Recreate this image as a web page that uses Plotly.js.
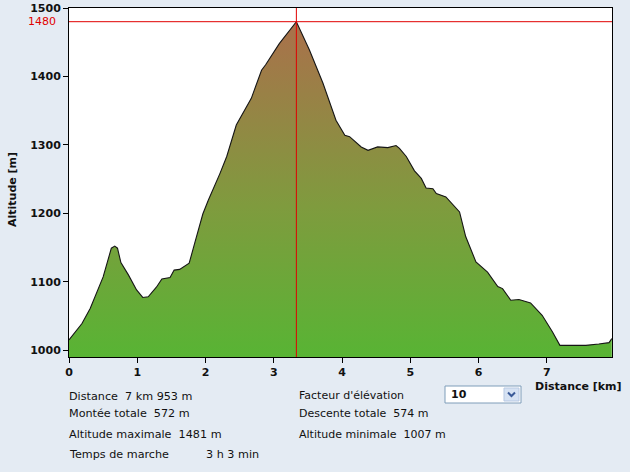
<!DOCTYPE html>
<html>
<head>
<meta charset="utf-8">
<script src="https://cdn.plot.ly/plotly-3.0.1.min.js"></script>
<style>
html,body{margin:0;padding:0;background:#e4ebf3;}
#chart{width:630px;height:472px;}
</style>
</head>
<body>
<div id="chart"></div>
<script>
// Distance along the route (km) and altitude (m)
const distKm = [0, 0.19, 0.31, 0.50, 0.62, 0.67, 0.71, 0.76, 0.87, 0.99, 1.08, 1.16, 1.28, 1.36, 1.48, 1.54, 1.62, 1.76, 1.84, 1.96, 2.04, 2.11, 2.21, 2.31, 2.45, 2.67, 2.82, 2.88, 3.08, 3.33, 3.52, 3.72, 3.91, 4.04, 4.11, 4.28, 4.38, 4.52, 4.67, 4.79, 4.84, 4.94, 5.06, 5.16, 5.23, 5.33, 5.38, 5.52, 5.72, 5.81, 5.96, 6.13, 6.28, 6.35, 6.47, 6.59, 6.76, 6.93, 7.08, 7.19, 7.57, 7.76, 7.91, 7.95];
const altM = [1015, 1039, 1061, 1107, 1149, 1152, 1149, 1128, 1110, 1088, 1077, 1078, 1092, 1104, 1106, 1117, 1118, 1127, 1156, 1199, 1219, 1234, 1258, 1283, 1329, 1368, 1409, 1417, 1448, 1480, 1439, 1390, 1336, 1314, 1312, 1297, 1292, 1297, 1296, 1299, 1295, 1283, 1262, 1251, 1237, 1236, 1229, 1224, 1202, 1166, 1129, 1114, 1093, 1090, 1073, 1074, 1069, 1051, 1027, 1007, 1007, 1009, 1011, 1017];

// Cursor position
const cursorKm = [3.33];
const cursorAlt = [1480];

// Ticks
const xTicks = [0, 1, 2, 3, 4, 5, 6, 7];
const yTicks = [1000, 1100, 1200, 1300, 1400, 1500];

// Summary texts
const leftInfo = ["Distance  7 km 953 m", "Montée totale  572 m", "Altitude maximale  1481 m", "Temps de marche"];
const rightInfo = ["Facteur d'élévation", "Descente totale  574 m", "Altitude minimale  1007 m"];
const walkTime = "3 h 3 min";
const elevFactor = "10";

const W = 630, H = 472, L = 69, R = 612, T = 8, B = 357;
const px = v => (v - L) / (R - L);
const py = v => (B - v) / (B - T);
const FONT = "DejaVu Sans";

const trace = {
  x: distKm, y: altM, type: 'scatter', mode: 'lines',
  line: {color: '#151515', width: 1.1},
  fill: 'tozeroy',
  fillgradient: {type: 'vertical', start: 990, stop: 1480,
    colorscale: [[0, '#58b434'], [0.45, '#7f9b3e'], [1, '#aa704b']]},
  hoverinfo: 'skip'
};

const annotations = [];
const infoY = [396, 414, 434, 454];
leftInfo.forEach((t, i) => annotations.push({xref:'paper', yref:'paper', x: px(67), y: py(infoY[i]), xanchor:'left', yanchor:'middle', text: t, showarrow:false, font:{family:FONT, size:11.2, color:'#111'}}));
annotations.push({xref:'paper', yref:'paper', x: px(204), y: py(454), xanchor:'left', yanchor:'middle', text: walkTime, showarrow:false, font:{family:FONT, size:11.2, color:'#111'}});
rightInfo.forEach((t, i) => annotations.push({xref:'paper', yref:'paper', x: px(297), y: py(infoY[i] - (i===0?1:0)), xanchor:'left', yanchor:'middle', text: t, showarrow:false, font:{family:FONT, size:11, color:'#111'}}));
annotations.push({xref:'paper', yref:'paper', x: px(449), y: py(394), xanchor:'left', yanchor:'middle', text: elevFactor, showarrow:false, font:{family:FONT, size:11, color:'#111', weight:'bold'}});
// axis titles
annotations.push({xref:'paper', yref:'paper', x: px(624), y: py(386), xanchor:'right', yanchor:'middle', text: 'Distance [km]', showarrow:false, font:{family:FONT, size:11, color:'#111', weight:'bold'}});
annotations.push({xref:'paper', yref:'paper', x: px(12), y: py(190), xanchor:'center', yanchor:'middle', textangle:-90, text: 'Altitude [m]', showarrow:false, font:{family:FONT, size:11, color:'#111', weight:'bold'}});
// cursor altitude label
annotations.push({xref:'paper', yref:'y', x: px(58), y: cursorAlt[0], xanchor:'right', yanchor:'middle', text: String(cursorAlt[0]), showarrow:false, font:{family:FONT, size:11, color:'#e00000'}});

const shapes = [
  {type:'line', xref:'x', yref:'paper', x0: cursorKm[0], x1: cursorKm[0], y0: 0, y1: 1, line:{color:'#e00000', width:1}},
  {type:'line', xref:'paper', yref:'y', x0: 0, x1: 1, y0: cursorAlt[0], y1: cursorAlt[0], line:{color:'#e00000', width:1}},
  // dropdown box
  {type:'rect', xref:'paper', yref:'paper', x0: px(445), x1: px(521), y0: py(403), y1: py(386), fillcolor:'#ffffff', line:{color:'#7f9db9', width:1}},
  {type:'rect', xref:'paper', yref:'paper', x0: px(504), x1: px(519), y0: py(401), y1: py(388), fillcolor:'#d6e2f3', line:{color:'#b7c9e3', width:1}},
  {type:'path', xref:'paper', yref:'paper', path: `M ${px(508)} ${py(392.5)} L ${px(511.5)} ${py(396)} L ${px(515)} ${py(392.5)}`, line:{color:'#3a5a98', width:2}}
];

const layout = {
  width: W, height: H,
  margin: {l: L, r: W - R, t: T, b: H - B, pad: 0},
  paper_bgcolor: '#e4ebf3', plot_bgcolor: '#ffffff',
  showlegend: false,
  xaxis: {range: [0, 7.953], tickvals: xTicks, ticktext: xTicks.map(String), ticks: 'outside', ticklen: 5, tickcolor: '#000', tickwidth: 1,
    showline: true, linecolor: '#000', linewidth: 1, mirror: true, showgrid: false, zeroline: false,
    tickfont: {family: FONT, size: 11, color: '#111', weight: 'bold'}},
  yaxis: {range: [990, 1500], tickvals: yTicks, ticktext: yTicks.map(String), ticks: 'outside', ticklen: 5, tickcolor: '#000', tickwidth: 1,
    showline: true, linecolor: '#000', linewidth: 1, mirror: true, showgrid: false, zeroline: false,
    tickfont: {family: FONT, size: 11, color: '#111', weight: 'bold'}},
  annotations: annotations,
  shapes: shapes
};

Plotly.newPlot('chart', [trace], layout, {displayModeBar: false, staticPlot: true});
</script>
</body>
</html>
